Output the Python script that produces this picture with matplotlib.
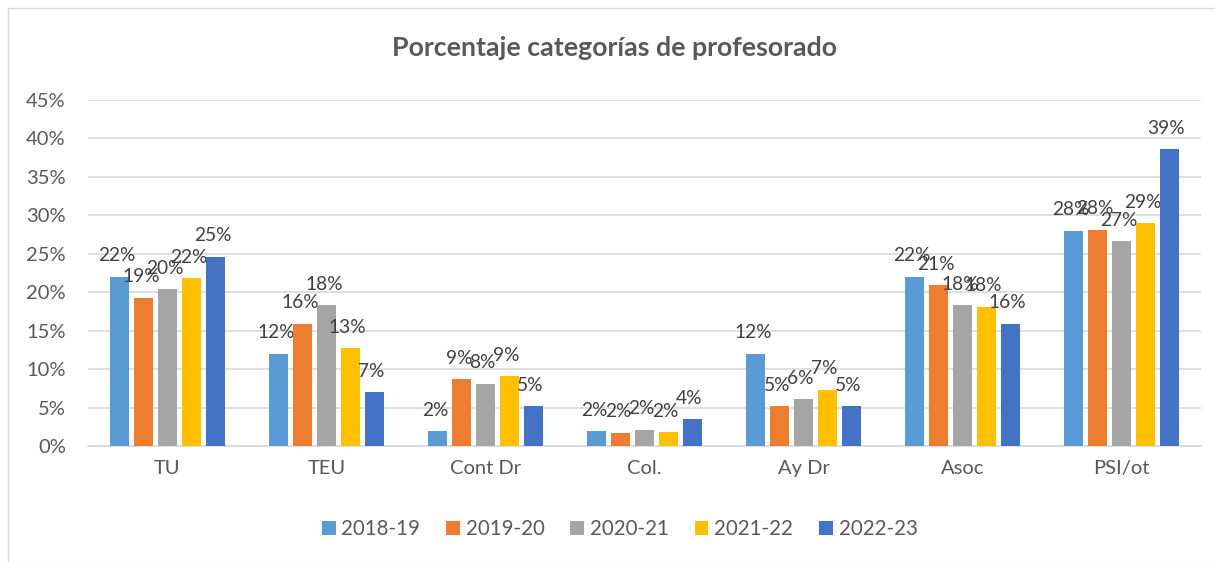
import matplotlib
matplotlib.use("Agg")
import matplotlib.pyplot as plt
import numpy as np
from matplotlib.patches import Rectangle

categories = ["TU", "TEU", "Cont Dr", "Col.", "Ay Dr", "Asoc", "PSI/ot"]
series_names = ["2018-19", "2019-20", "2020-21", "2021-22", "2022-23"]
s2018 = [22.0, 12.0, 1.95, 1.95, 12.0, 22.0, 28.0]
s2019 = [19.3, 15.9, 8.7, 1.7, 5.2, 20.9, 28.1]
s2020 = [20.4, 18.3, 8.1, 2.1, 6.1, 18.3, 26.6]
s2021 = [21.8, 12.7, 9.1, 1.8, 7.3, 18.1, 29.0]
s2022 = [24.6, 7.0, 5.2, 3.5, 5.2, 15.9, 38.6]
yticks = [0, 5, 10, 15, 20, 25, 30, 35, 40, 45]

colors = ["#5B9BD5", "#ED7D31", "#A5A5A5", "#FFC000", "#4472C4"]
txt = "#595959"
plt.rcParams['font.family'] = ['Lato', 'DejaVu Sans']

fig = plt.figure(figsize=(12.15, 5.62), dpi=100)
fig.patches.append(Rectangle((8/1215, 0), 1.0, 1 - 8/562, transform=fig.transFigure,
                             fill=False, edgecolor="#D9D9D9", linewidth=1))
ax = fig.add_axes([88/1215, 1 - 446/562, (1201 - 88)/1215, (446 - 100)/562])

data = [s2018, s2019, s2020, s2021, s2022]
x = np.arange(len(categories))
slot = 0.15
bw = 0.122
for i, (name, vals) in enumerate(zip(series_names, data)):
    pos = x + (i - 2) * slot
    bars = ax.bar(pos, vals, width=bw, color=colors[i], label=name, zorder=3)
    for b, v in zip(bars, vals):
        ax.annotate(f"{round(v):d}%", (b.get_x() + b.get_width() / 2, v),
                    xytext=(-2, 9), textcoords="offset points",
                    ha="center", va="bottom", fontsize=13.8, color="#404040")

ax.set_xlim(-0.5, len(categories) - 0.5)
ax.set_ylim(0, 45)
ax.set_yticks(yticks)
ax.set_yticklabels([f"{t}%" for t in yticks])
ax.set_xticks(x)
ax.set_xticklabels(categories)
ax.tick_params(axis="both", length=0, labelsize=14.5, colors=txt)
ax.tick_params(axis="y", pad=16)
ax.tick_params(axis="x", pad=10)
ax.grid(axis="y", color="#D9D9D9", linewidth=1.2, zorder=0)
for s in ["top", "right", "left"]:
    ax.spines[s].set_visible(False)
ax.spines["bottom"].set_color("#D9D9D9")
ax.spines["bottom"].set_linewidth(1.2)

fig.text(0.506, 1 - 48/562, "Porcentaje categorías de profesorado", ha="center", va="center",
         fontsize=19.3, fontweight="bold", color=txt)

leg = fig.legend(loc="center", bbox_to_anchor=(0.51, 1 - 529/562), ncol=5, frameon=False,
                 fontsize=14.8, handlelength=0.67, handleheight=0.67, columnspacing=1.25,
                 handletextpad=0.29)
for t in leg.get_texts():
    t.set_color(txt)

fig.savefig("out.png", dpi=100)
